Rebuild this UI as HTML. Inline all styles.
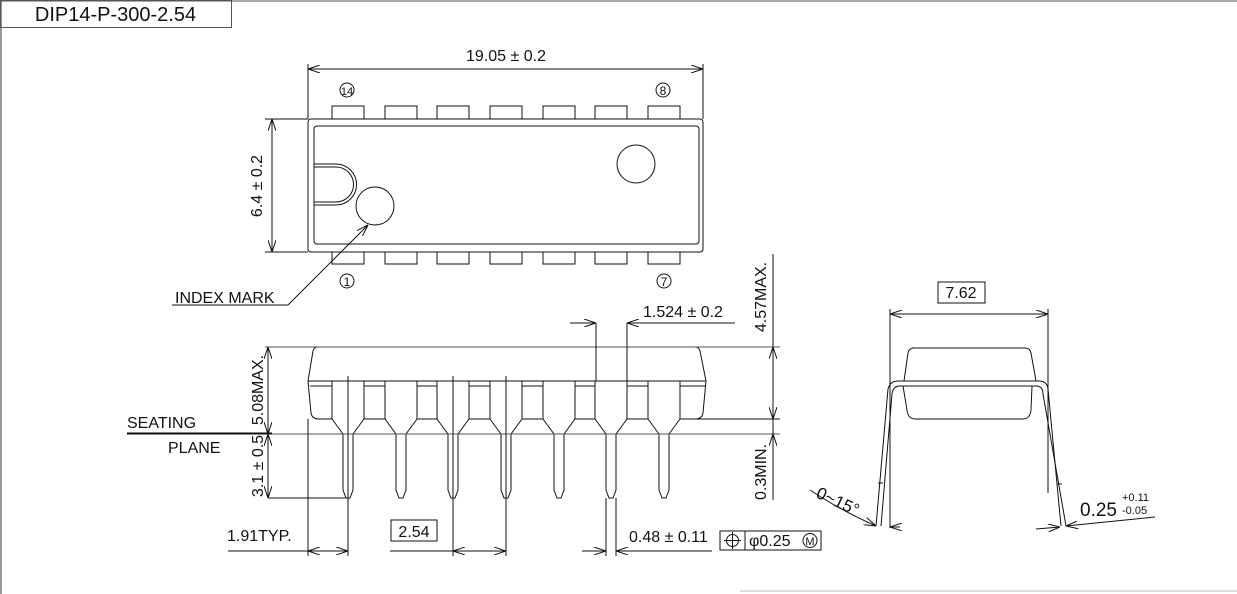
<!DOCTYPE html>
<html><head><meta charset="utf-8"><style>
html,body{margin:0;padding:0;background:#fff;}
svg{display:block;}
text{font-family:"Liberation Sans","DejaVu Sans",sans-serif;fill:#111;}
</style></head><body>
<svg width="1237" height="594" viewBox="0 0 1237 594" xmlns="http://www.w3.org/2000/svg">
<defs>
<marker id="a" viewBox="0 0 12 8" refX="12" refY="4" markerWidth="12" markerHeight="8" markerUnits="userSpaceOnUse" orient="auto-start-reverse">
<path d="M0,0 L12,4 L0,8" fill="none" stroke="#111" stroke-width="1"/></marker>
</defs>
<g fill="none" stroke="#111" stroke-width="1">
<line x1="1" y1="0" x2="1" y2="594" stroke="#333"/>
<line x1="0" y1="1" x2="1237" y2="1" stroke="#555"/>
<rect x="0.5" y="0.5" width="231" height="27" stroke="#555"/>
<line x1="740" y1="591" x2="1237" y2="591" stroke="#bbb"/>

<rect x="308" y="119" width="395" height="133" rx="3"/>
<rect x="314" y="126" width="385" height="118" rx="3"/>
<path d="M314,164 H336 A20.5,20.5 0 0 1 336,205 H314"/>
<path d="M314,167 H336 A17.5,17.5 0 0 1 336,202 H314"/>
<circle cx="375" cy="206" r="19"/>
<circle cx="636" cy="164" r="19"/>
<path d="M332,119V106H364V119M385,119V106H417V119M437,119V106H469V119M490,119V106H522V119M543,119V106H575V119M595,119V106H627V119M648,119V106H680V119"/>
<path d="M332,252V264H364V252M385,252V264H417V252M437,252V264H469V252M490,252V264H522V252M543,252V264H575V252M595,252V264H627V252M648,252V264H680V252"/>
<circle cx="347" cy="90" r="7"/><circle cx="663" cy="90" r="7"/>
<circle cx="347" cy="281" r="7"/><circle cx="664" cy="281" r="7"/>
<line x1="308" y1="64" x2="308" y2="119"/><line x1="703" y1="64" x2="703" y2="119"/>
<line x1="308" y1="69" x2="703" y2="69" marker-start="url(#a)" marker-end="url(#a)"/>
<line x1="265" y1="119" x2="308" y2="119"/><line x1="265" y1="252" x2="308" y2="252"/>
<line x1="272" y1="119" x2="272" y2="252" marker-start="url(#a)" marker-end="url(#a)"/>
<path d="M368,225 L288,305 H172" marker-start="url(#a)"/>

<path d="M308,381 L313,351 Q314,347 318,347 H695 Q699,347 700,351 L706,381"/>
<line x1="308" y1="381" x2="706" y2="381"/>
<path d="M308,381 L311,413 Q312,419 319,419 H332"/>
<path d="M706,381 L703,413 Q702,419 695,419 H680"/>
<path d="M364,419H385M417,419H437M469,419H490M522,419H543M575,419H595M627,419H648"/>
<path d="M310,386H332M364,386H385M417,386H437M469,386H490M522,386H543M575,386H595M627,386H648M680,386H705"/>
<path d="M332,381V419L343,434V490L346,498H350L353,490V434L364,419V381"/>
<path d="M385,381V419L396,434V490L399,498H403L406,490V434L417,419V381"/>
<path d="M437,381V419L448,434V490L451,498H455L458,490V434L469,419V381"/>
<path d="M490,381V419L501,434V490L504,498H508L511,490V434L522,419V381"/>
<path d="M543,381V419L554,434V490L557,498H561L564,490V434L575,419V381"/>
<path d="M595,381V419L606,434V490L609,498H613L616,490V434L627,419V381"/>
<path d="M648,381V419L659,434V490L662,498H666L669,490V434L680,419V381"/>
<line x1="127" y1="433.5" x2="272" y2="433.5" stroke-width="2"/>
<line x1="272" y1="434" x2="780" y2="434" stroke="#555"/>
<line x1="265" y1="347" x2="780" y2="347" stroke="#555"/>
<line x1="680" y1="419" x2="780" y2="419"/>
<line x1="268" y1="347" x2="268" y2="434" marker-start="url(#a)" marker-end="url(#a)"/>
<line x1="268" y1="434" x2="268" y2="498" marker-start="url(#a)" marker-end="url(#a)"/>
<line x1="268" y1="498" x2="350" y2="498"/>
<line x1="773" y1="254" x2="773" y2="500"/>
<line x1="773" y1="380" x2="773" y2="347" marker-end="url(#a)"/>
<line x1="773" y1="390" x2="773" y2="419" marker-end="url(#a)"/>
<line x1="773" y1="455" x2="773" y2="434" marker-end="url(#a)"/>
<line x1="596" y1="323" x2="596" y2="381"/><line x1="627" y1="323" x2="627" y2="381"/>
<line x1="570" y1="323" x2="596" y2="323" marker-end="url(#a)"/>
<line x1="735" y1="323" x2="627" y2="323" marker-end="url(#a)"/>
<line x1="308" y1="419" x2="308" y2="556"/>
<line x1="348" y1="376" x2="348" y2="556"/>
<line x1="453" y1="376" x2="453" y2="556"/>
<line x1="506" y1="376" x2="506" y2="556"/>
<line x1="606" y1="498" x2="606" y2="556"/>
<line x1="616" y1="498" x2="616" y2="556"/>
<line x1="228" y1="551" x2="308" y2="551"/>
<line x1="308" y1="551" x2="348" y2="551" marker-start="url(#a)" marker-end="url(#a)"/>
<line x1="390" y1="551" x2="453" y2="551"/>
<line x1="453" y1="551" x2="506" y2="551" marker-start="url(#a)" marker-end="url(#a)"/>
<line x1="582" y1="551" x2="606" y2="551" marker-end="url(#a)"/>
<line x1="712" y1="551" x2="616" y2="551" marker-end="url(#a)"/>
<rect x="391" y="520" width="46" height="21"/>
<rect x="720" y="531" width="101" height="19"/>
<line x1="745" y1="531" x2="745" y2="550"/>
<circle cx="732.5" cy="540.5" r="6"/>
<line x1="724" y1="540.5" x2="741" y2="540.5"/><line x1="732.5" y1="532" x2="732.5" y2="549"/>
<circle cx="810" cy="540.5" r="7"/>

<rect x="938" y="282" width="47" height="21"/>
<line x1="890" y1="309" x2="890" y2="528"/>
<line x1="1048" y1="309" x2="1048" y2="493"/>
<line x1="890" y1="314" x2="1048" y2="314" marker-start="url(#a)" marker-end="url(#a)"/>
<path d="M912,348 H1025 Q1030,348 1031,353 L1036,381 M1032,386 L1031,410 Q1030,419 1023,419 H915 Q908,419 907,410 L903,386 M904,381 L908,353 Q909,348 914,348"/>
<path d="M876,526 L888,389 Q890,381 898,381 H1039 Q1047,381 1048,389 L1061,526"/>
<path d="M881,526 L892,394 Q893,386 900,386 H1036 Q1043,386 1043,394 L1066,526"/>
<path d="M878,483 L883,483 M1057,484 L1062,484"/>
<path d="M810,490 Q840,510 876,526" marker-end="url(#a)"/>
<line x1="900" y1="527" x2="890" y2="527" marker-end="url(#a)"/>
<line x1="1036" y1="529" x2="1060" y2="527" marker-end="url(#a)"/>
<line x1="1155" y1="517" x2="1066" y2="526" marker-end="url(#a)"/>
</g>

<g font-size="16">
<text x="115.5" y="21" font-size="20" text-anchor="middle">DIP14-P-300-2.54</text>
<text x="506" y="61" text-anchor="middle">19.05 ± 0.2</text>
<text transform="translate(262,186) rotate(-90)" text-anchor="middle">6.4 ± 0.2</text>
<text x="347" y="95" font-size="11" text-anchor="middle">14</text>
<text x="663" y="95" font-size="12" text-anchor="middle">8</text>
<text x="347" y="286" font-size="12" text-anchor="middle">1</text>
<text x="664" y="286" font-size="12" text-anchor="middle">7</text>
<text x="175" y="303">INDEX MARK</text>
<text x="643" y="317">1.524 ± 0.2</text>
<text transform="translate(766,297) rotate(-90)" text-anchor="middle">4.57MAX.</text>
<text transform="translate(766,472) rotate(-90)" text-anchor="middle">0.3MIN.</text>
<text transform="translate(263,390) rotate(-90)" text-anchor="middle">5.08MAX.</text>
<text transform="translate(263,466) rotate(-90)" text-anchor="middle">3.1 ± 0.5</text>
<text x="127" y="428">SEATING</text>
<text x="168" y="453">PLANE</text>
<text x="227" y="541">1.91TYP.</text>
<text x="414" y="537" text-anchor="middle">2.54</text>
<text x="629" y="542">0.48 ± 0.11</text>
<text x="749" y="546">φ0.25</text>
<text x="810" y="545" font-size="11" text-anchor="middle">M</text>
<text x="961" y="298" text-anchor="middle">7.62</text>
<text transform="translate(815,497) rotate(25)" font-size="17">0~15°</text>
<text x="1080" y="516" font-size="19">0.25</text>
<text x="1122" y="501" font-size="11">+0.11</text>
<text x="1122" y="514" font-size="11">-0.05</text>
</g>
</svg>
</body></html>
